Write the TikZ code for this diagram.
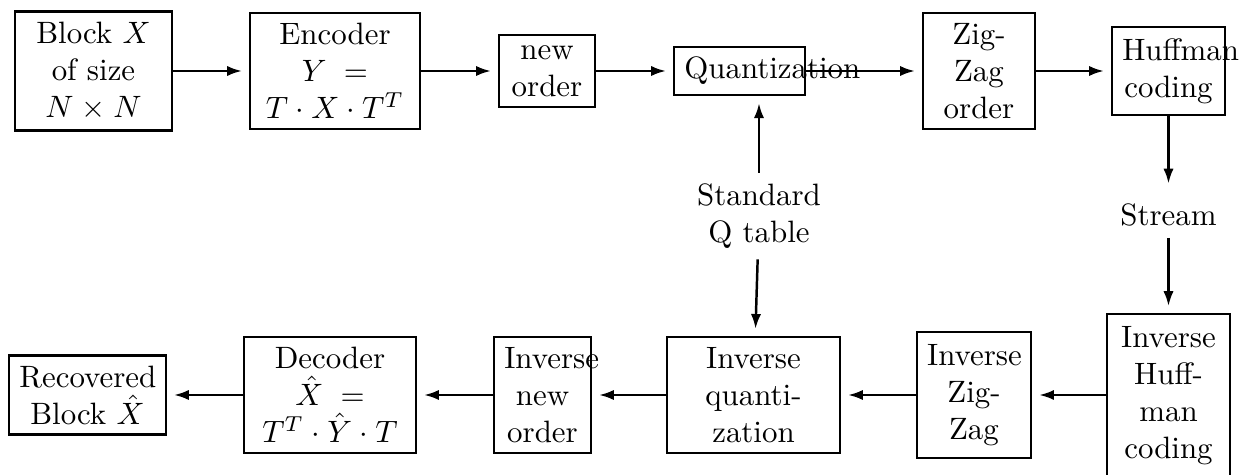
\documentclass[tikz,border=0pt]{standalone}
\usetikzlibrary{arrows.meta}
\begin{document}
\begin{tikzpicture}[x=0.3236pt,y=-0.3236pt,
  blk/.style={draw,line width=0.8pt,align=center,inner sep=3.33pt,
    execute at begin node={\hyphenpenalty=10000\exhyphenpenalty=10000}},
  lbl/.style={align=center,inner sep=3.33pt},
  flow/.style={line width=0.8pt,-{Latex[length=4.8pt,width=3.3pt]},shorten >=2.2pt}]
\useasboundingbox (0,0) rectangle (1244,475);

% encoding chain
\node[blk,text width=44.1pt] (bx)    at (93.5,71)  {Block $X$\\of size\\$N\times N$};
\node[blk,text width=48.3pt] (enc)   at (335,71)   {Encoder\\\mbox{$Y\;=$}\\$T\cdot X\cdot T^T$};
\node[blk,text width=24.4pt] (nord)  at (547,71)   {new\\order};
\node[blk,text width=35.7pt] (quant) at (739.5,71) {Quantization};
\node[blk,text width=29.6pt] (zz)    at (979,71)   {Zig-\\Zag\\order};
\node[blk,text width=29.9pt,minimum height=28.5pt] (huff) at (1168.5,71) {Huffman\\coding};

% side inputs
\node[lbl,text height=8pt,text depth=0.3pt,anchor=base] (stream) at (1168.5,226) {Stream};
\node[lbl] (qtab) at (759,216) {Standard\\Q table};

% decoding chain
\node[blk,text width=44.1pt] (rec)    at (87.5,395)  {Recovered\\Block $\hat{X}$};
\node[blk,text width=49.0pt] (dec)    at (330,395)   {Decoder\\\mbox{$\hat{X}\;=$}\\$T^T\cdot\hat{Y}\cdot T$};
\node[blk,text width=24.7pt] (inord)  at (542.5,395) {Inverse\\new\\order};
\node[blk,text width=49.3pt] (iquant) at (753.5,395) {Inverse\\quanti-\\zation};
\node[blk,text width=30.3pt,minimum height=40.8pt] (izz) at (974,395) {Inverse\\Zig-\\Zag};
\node[blk,text width=33.1pt,minimum height=53pt] (ihuff) at (1168.5,396) {Inverse\\Huff-\\man\\coding};

% connectors
\draw[flow] (bx) -- (enc);
\draw[flow] (enc) -- (nord);
\draw[flow] (nord) -- (quant);
\draw[flow] (quant) -- (zz);
\draw[flow] (zz) -- (huff);
\draw[flow] (huff) -- (stream);
\draw[flow] (stream) -- (ihuff);
\draw[flow] (qtab) -- (qtab |- quant.south);
\draw[flow] (qtab) -- (iquant);
\draw[flow] (ihuff.west |- izz) -- (izz);
\draw[flow] (izz) -- (iquant);
\draw[flow] (iquant) -- (inord);
\draw[flow] (inord) -- (dec);
\draw[flow] (dec) -- (rec);
\end{tikzpicture}
\end{document}
